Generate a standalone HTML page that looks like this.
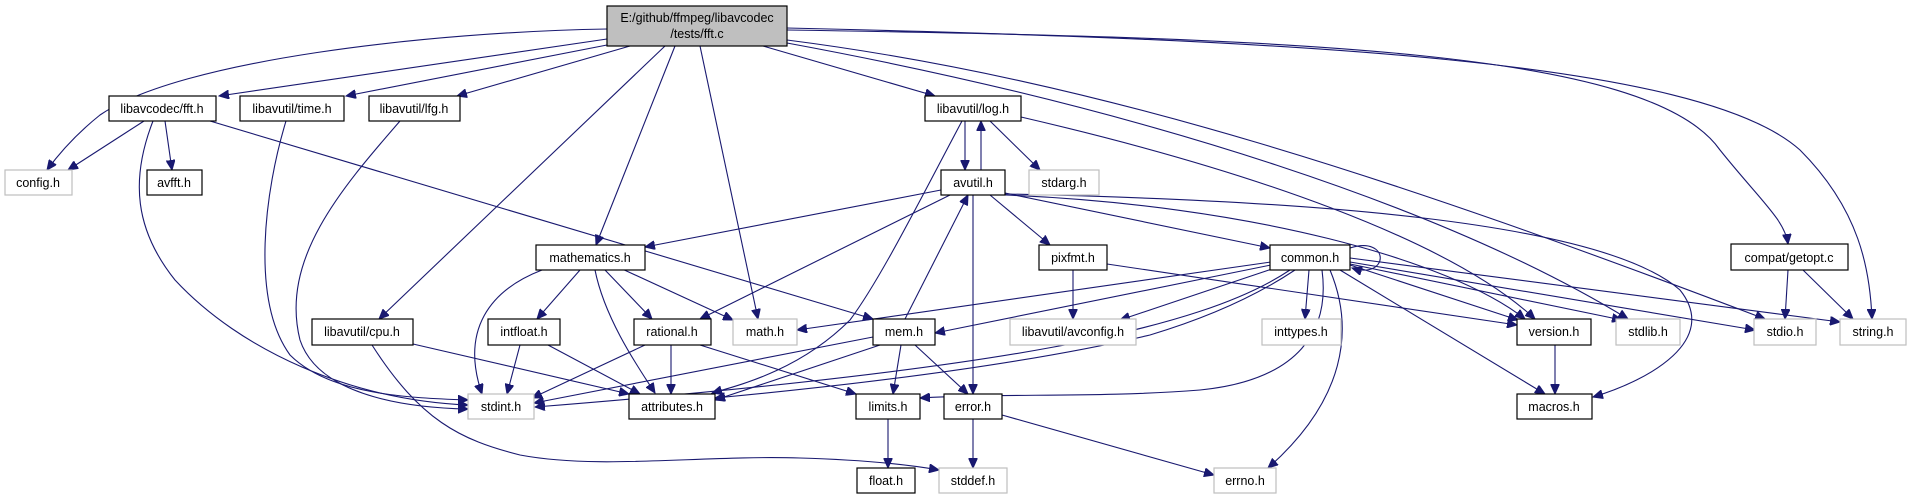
<!DOCTYPE html>
<html><head><meta charset="utf-8"><style>
html,body{margin:0;padding:0;background:#fff;}
svg{display:block;}
text{font-family:"Liberation Sans",sans-serif;font-size:12.5px;fill:#000;}
.n{fill:#fff;stroke:#000;stroke-width:1.2;}
.g{fill:#fff;stroke:#bfbfbf;stroke-width:1.2;}
.e{fill:none;stroke:#191970;stroke-width:1.1;}
</style></head><body>
<svg width="1911" height="500" viewBox="0 0 1911 500" xmlns="http://www.w3.org/2000/svg">
<defs><marker id="a" markerWidth="11" markerHeight="9" refX="10" refY="4.5" orient="auto" markerUnits="userSpaceOnUse"><path d="M0,0 L10,4.5 L0,9 Z" fill="#191970" stroke="#191970"/></marker></defs>
<g class="e" marker-end="url(#a)">
<path d="M607,29 C430,32 180,60 100,115 C75,135 58,155 47,170"/>
<path d="M607,39 L219,96"/>
<path d="M607,45 L346,96"/>
<path d="M630,46 L457,96"/>
<path d="M665,46 L379,319"/>
<path d="M675,46 L596,245"/>
<path d="M700,46 L758,319"/>
<path d="M763,46 L935,96"/>
<path d="M787,28 C1300,40 1700,60 1800,150 C1860,210 1870,270 1872,319"/>
<path d="M787,30 C1300,38 1650,50 1720,150 C1760,200 1785,220 1788,244"/>
<path d="M787,40 C1100,80 1400,180 1765,319"/>
<path d="M787,43 C1150,110 1450,210 1628,319"/>
<path d="M1021,117 C1250,170 1450,240 1535,319"/>
<path d="M965,121 L965,170"/>
<path d="M981,170 L981,121"/>
<path d="M990,121 L1040,170"/>
<path d="M962,121 C920,200 880,280 850,320 C800,370 740,385 712,393"/>
<path d="M941,190 L645,247"/>
<path d="M950,195 L700,319"/>
<path d="M905,319 L968,195"/>
<path d="M973,195 L973,394"/>
<path d="M990,195 L1050,245"/>
<path d="M1005,193 L1270,248"/>
<path d="M1005,194 C1300,200 1600,220 1680,290 C1720,340 1650,380 1593,397"/>
<path d="M1005,195 C1250,205 1450,260 1525,319"/>
<path d="M542,270 C490,290 460,330 482,394"/>
<path d="M580,270 L537,319"/>
<path d="M605,270 L652,319"/>
<path d="M620,268 L733,320"/>
<path d="M595,270 C605,320 640,370 655,393"/>
<path d="M520,345 L507,394"/>
<path d="M548,345 L640,394"/>
<path d="M645,345 L532,398"/>
<path d="M671,345 L671,394"/>
<path d="M700,345 L856,394"/>
<path d="M413,344 L629,394"/>
<path d="M372,345 C420,420 460,440 520,455 C600,470 700,455 800,458 C870,460 910,465 939,470"/>
<path d="M153,121 C130,180 135,230 175,280 C240,350 350,400 468,405"/>
<path d="M286,121 C265,190 250,300 290,355 C330,395 410,398 468,400"/>
<path d="M400,121 C340,190 280,260 300,340 C320,400 420,408 468,409"/>
<path d="M144,121 L68,170"/>
<path d="M165,121 L172,170"/>
<path d="M210,121 L873,319"/>
<path d="M873,337 L534,403"/>
<path d="M880,345 L715,400"/>
<path d="M901,345 L893,394"/>
<path d="M915,345 L968,394"/>
<path d="M1073,270 L1073,319"/>
<path d="M1107,264 L1517,325"/>
<path d="M1350,248 C1390,235 1390,280 1352,268"/>
<path d="M1271,262 L797,330"/>
<path d="M1271,265 L935,333"/>
<path d="M1275,268 L1120,320"/>
<path d="M1309,270 L1305,319"/>
<path d="M1295,270 C1250,300 1200,320 1150,335 C1000,370 800,390 715,398"/>
<path d="M1322,270 C1330,330 1300,380 1200,390 C1100,398 1000,393 920,398"/>
<path d="M1290,270 C1200,330 1000,370 535,407"/>
<path d="M1330,270 C1355,330 1345,400 1268,468"/>
<path d="M1350,265 L1518,320"/>
<path d="M1340,270 L1545,394"/>
<path d="M1350,264 L1622,320"/>
<path d="M1350,262 L1755,330"/>
<path d="M1350,258 L1840,322"/>
<path d="M1555,345 L1555,394"/>
<path d="M888,419 L888,468"/>
<path d="M973,419 L973,468"/>
<path d="M1002,415 L1214,475"/>
<path d="M1788,270 L1785,319"/>
<path d="M1803,270 L1853,319"/>
</g>
<rect x="607" y="6" width="180" height="40" fill="#bfbfbf" stroke="#000" stroke-width="1.2"/>
<text x="697" y="22" text-anchor="middle">E:/github/ffmpeg/libavcodec</text>
<text x="697" y="38" text-anchor="middle">/tests/fft.c</text>
<g>
<rect class="n" x="109" y="96" width="107" height="25"/><text x="162" y="113" text-anchor="middle">libavcodec/fft.h</text>
<rect class="n" x="240" y="96" width="104" height="25"/><text x="292" y="113" text-anchor="middle">libavutil/time.h</text>
<rect class="n" x="369" y="96" width="91" height="25"/><text x="414" y="113" text-anchor="middle">libavutil/lfg.h</text>
<rect class="n" x="925" y="96" width="96" height="25"/><text x="973" y="113" text-anchor="middle">libavutil/log.h</text>
<rect class="g" x="5" y="170" width="67" height="25"/><text x="38" y="187" text-anchor="middle">config.h</text>
<rect class="n" x="147" y="170" width="55" height="25"/><text x="174" y="187" text-anchor="middle">avfft.h</text>
<rect class="n" x="941" y="170" width="64" height="25"/><text x="973" y="187" text-anchor="middle">avutil.h</text>
<rect class="g" x="1029" y="170" width="70" height="25"/><text x="1064" y="187" text-anchor="middle">stdarg.h</text>
<rect class="n" x="536" y="245" width="109" height="25"/><text x="590" y="262" text-anchor="middle">mathematics.h</text>
<rect class="n" x="1039" y="245" width="68" height="25"/><text x="1073" y="262" text-anchor="middle">pixfmt.h</text>
<rect class="n" x="1270" y="245" width="80" height="25"/><text x="1310" y="262" text-anchor="middle">common.h</text>
<rect class="n" x="1731" y="244" width="117" height="26"/><text x="1789" y="262" text-anchor="middle">compat/getopt.c</text>
<rect class="n" x="312" y="319" width="101" height="26"/><text x="362" y="336" text-anchor="middle">libavutil/cpu.h</text>
<rect class="n" x="488" y="319" width="72" height="26"/><text x="524" y="336" text-anchor="middle">intfloat.h</text>
<rect class="n" x="634" y="319" width="77" height="26"/><text x="672" y="336" text-anchor="middle">rational.h</text>
<rect class="g" x="733" y="319" width="64" height="26"/><text x="765" y="336" text-anchor="middle">math.h</text>
<rect class="n" x="873" y="319" width="62" height="26"/><text x="904" y="336" text-anchor="middle">mem.h</text>
<rect class="g" x="1010" y="319" width="126" height="26"/><text x="1073" y="336" text-anchor="middle">libavutil/avconfig.h</text>
<rect class="g" x="1262" y="319" width="79" height="26"/><text x="1301" y="336" text-anchor="middle">inttypes.h</text>
<rect class="n" x="1517" y="319" width="74" height="26"/><text x="1554" y="336" text-anchor="middle">version.h</text>
<rect class="g" x="1616" y="319" width="64" height="26"/><text x="1648" y="336" text-anchor="middle">stdlib.h</text>
<rect class="g" x="1754" y="319" width="62" height="26"/><text x="1785" y="336" text-anchor="middle">stdio.h</text>
<rect class="g" x="1840" y="319" width="66" height="26"/><text x="1873" y="336" text-anchor="middle">string.h</text>
<rect class="g" x="468" y="394" width="66" height="25"/><text x="501" y="411" text-anchor="middle">stdint.h</text>
<rect class="n" x="629" y="394" width="86" height="25"/><text x="672" y="411" text-anchor="middle">attributes.h</text>
<rect class="n" x="856" y="394" width="64" height="25"/><text x="888" y="411" text-anchor="middle">limits.h</text>
<rect class="n" x="944" y="394" width="58" height="25"/><text x="973" y="411" text-anchor="middle">error.h</text>
<rect class="n" x="1517" y="394" width="75" height="25"/><text x="1554" y="411" text-anchor="middle">macros.h</text>
<rect class="n" x="857" y="468" width="58" height="25"/><text x="886" y="485" text-anchor="middle">float.h</text>
<rect class="g" x="939" y="468" width="68" height="25"/><text x="973" y="485" text-anchor="middle">stddef.h</text>
<rect class="g" x="1214" y="468" width="62" height="25"/><text x="1245" y="485" text-anchor="middle">errno.h</text>
</g>
</svg>
</body></html>
